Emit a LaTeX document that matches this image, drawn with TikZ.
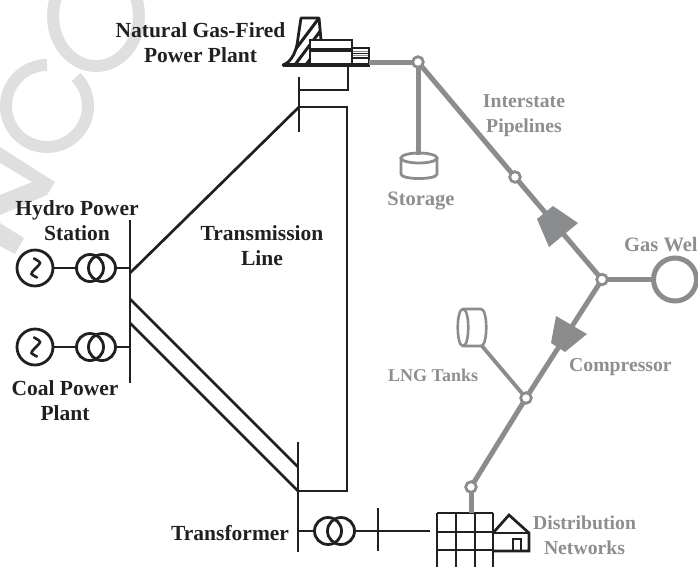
\documentclass[tikz,border=0pt]{standalone}
\usepackage{fontspec}
\setmainfont{Liberation Serif}
\usetikzlibrary{calc}
\definecolor{ink}{HTML}{231F20}
\definecolor{pipe}{HTML}{8A8C8E}
\definecolor{pipetext}{HTML}{8C8E91}
\definecolor{wm}{HTML}{DFDFDF}
\tikzset{
  darkline/.style={draw=ink,line width=2.7pt},
  pipeline/.style={draw=pipe,line width=5pt},
  thinpipe/.style={draw=pipe,line width=3.8pt},
  ring/.style={circle,draw=ink,line width=2.8pt,inner sep=0pt,outer sep=0pt,fill=none},
  gen/.style={ring,minimum size=36pt},
  coil/.style={ring,minimum size=27pt},
  junction/.style={circle,draw=pipe,fill=white,line width=2.6pt,inner sep=0pt,outer sep=0pt,minimum size=10.5pt},
  wellring/.style={circle,draw=pipe,line width=5pt,inner sep=0pt,outer sep=0pt,minimum size=43pt},
  blacklabel/.style={text=ink,align=center,inner sep=0pt,font=\fontsize{21.5}{25}\selectfont\bfseries},
  graylabel/.style={text=pipetext,align=center,inner sep=0pt,font=\fontsize{19.7}{25}\selectfont\bfseries},
  narrowgray/.style={text=pipetext,align=center,inner sep=0pt,font=\fontsize{18}{25}\selectfont\bfseries},
  widegray/.style={text=pipetext,align=center,inner sep=0pt,font=\fontsize{20.5}{25}\selectfont\bfseries},
  pump/.style={fill=pipe,draw=none},
  wmstroke/.style={draw=wm,line width=12pt,line cap=butt},
}
\newcommand{\scurve}[1]{\draw[ink,line width=2.6pt,line cap=round] plot[smooth] coordinates {($(#1)+(-1,-9.5)$) ($(#1)+(5,-5)$) ($(#1)+(-1,2)$) ($(#1)+(-3.5,6)$) ($(#1)+(2,9.5)$)};}
\begin{document}
\begin{tikzpicture}[x=1pt,y=-1pt]
\useasboundingbox (0,0) rectangle (698,566);
\clip (0,0) rectangle (698,566);
% watermark
\draw[wmstroke] (96,16) ellipse [x radius=43,y radius=50];
\draw[wmstroke] plot[domain=-90:-405,samples=70] ({47+41*cos(\x)},{106+41*sin(\x)});
\fill[wm] (0,147) -- (55,182) -- (47,195) -- (0,215) -- (0,195) -- (32,182) -- (0,163) -- cycle;
\fill[wm] (0,223) -- (24,238) -- (15,254) -- (0,246) -- cycle;
% coordinates
\coordinate (hbusT) at (130,220);
\coordinate (hbusB) at (130,383);
\coordinate (hbusA) at (130,273);
\coordinate (hbusC) at (130,299);
\coordinate (hbusD) at (130,323);
\coordinate (hbusH) at (130,268);
\coordinate (hbusK) at (130,347);
\coordinate (pbusT) at (299,77);
\coordinate (pbusB) at (299,132);
\coordinate (pbusM) at (299,90);
\coordinate (pbusA) at (299,107);
\coordinate (tbusT) at (298,442);
\coordinate (tbusB) at (298,552);
\coordinate (tbusC) at (298,467);
\coordinate (tbusD) at (298,491);
\coordinate (tbusX) at (298,531);
\coordinate (rTL) at (347,107);
\coordinate (rBL) at (347,491);
\coordinate (plantDrop) at (348,65);
\coordinate (plantDropB) at (348,90);
\coordinate (tickT) at (378,508);
\coordinate (tickB) at (378,551);
\coordinate (gridW) at (430,531);
\coordinate (plantOut) at (369,62);
\coordinate (gridTop) at (471,513);
% generators and transformers
\node[gen] (g1) at (35,268) {};
\node[coil] (t1a) at (90,268) {};
\node[coil] (t1b) at (102,268) {};
\node[gen] (g2) at (35,347) {};
\node[coil] (t2a) at (90,347) {};
\node[coil] (t2b) at (102,347) {};
\node[coil] (t3a) at (328,531) {};
\node[coil] (t3b) at (341,531) {};
\scurve{g1}
\scurve{g2}
\draw[darkline] (g1) -- (t1a);
\draw[darkline] (t1b) -- (hbusH);
\draw[darkline] (g2) -- (t2a);
\draw[darkline] (t2b) -- (hbusK);
\draw[darkline] (tbusX) -- (t3a);
\draw[darkline] (t3b) -- (gridW);
% buses
\draw[darkline] (hbusT) -- (hbusB);
\draw[darkline] (pbusT) -- (pbusB);
\draw[darkline] (tbusT) -- (tbusB);
\draw[darkline] (tickT) -- (tickB);
% transmission lines
\draw[darkline] (hbusA) -- (pbusA);
\draw[darkline] (hbusC) -- (tbusC);
\draw[darkline] (hbusD) -- (tbusD);
\draw[darkline] (pbusA) -- (rTL) -- (rBL) -- (tbusD);
\draw[darkline] (plantDrop) -- (plantDropB) -- (pbusM);
% plant
\begin{scope}
\clip (301,18) -- (319,18) -- (321,40) -- (310,40) -- (310,65) -- (283,65) .. controls (292,62) and (297,50) .. (298,38) -- cycle;
\foreach \d in {0,11,...,55}{\draw[ink,line width=3pt] (280+\d,70) -- (325+\d,10);}
\end{scope}
\draw[ink,line width=2.8pt,line join=round] (310,65) -- (283,65) .. controls (292,62) and (297,50) .. (298,38) -- (301,18) -- (319,18) -- (321,40);
\draw[darkline] (310,40) rectangle (352,65);
\draw[ink,line width=4.8pt] (310,50) -- (352,50);
\draw[ink,line width=2.6pt] (352,48) -- (369,48) -- (369,65);
\draw[pipe,line width=1.4pt] (353,51.5) -- (368,51.5) (353,55.5) -- (368,55.5);
\draw[ink,line width=1.5pt] (353,53.5) -- (368,53.5) (353,58) -- (368,58);
\draw[ink,line width=3.6pt] (283,65) -- (370,65);
% distribution grid
\foreach \x in {437,456,475,493}{\draw[darkline] (\x,513) -- (\x,568);}
\foreach \y in {513,532,550}{\draw[darkline] (437,\y) -- (493,\y);}
\draw[darkline] (493,533) -- (509,515) -- (529,533) -- (529,551) -- (493,551);
\draw[darkline] (493,533) -- (529,533);
\draw[darkline] (513,551) -- (513,539) -- (521,539) -- (521,551);
% gas network
\node[junction] (j1) at (418,62) {};
\node[junction] (j2) at (515,177) {};
\node[junction] (j3) at (602,279.5) {};
\node[junction] (j4) at (526,398) {};
\node[junction] (j5) at (471,487) {};
\node[wellring] (well) at (675,279.5) {};
\coordinate (stTop) at (418,155);
\coordinate (tankEnd) at (482,346);
\draw[pipeline] (plantOut) -- (j1);
\draw[pipeline] (j1) -- (stTop);
\draw[pipeline] (j1) -- (j2);
\draw[pipeline] (j2) -- (j3);
\draw[pipeline] (j3) -- (well);
\draw[pipeline] (j3) -- (j4);
\draw[pipeline] (j4) -- (j5);
\draw[pipeline] (j5) -- (gridTop);
\draw[thinpipe] (tankEnd) -- (j4);
\node[junction] at (j1) {};
\node[junction] at (j2) {};
\node[junction] at (j3) {};
\node[junction] at (j4) {};
\node[junction] at (j5) {};
\fill[pump] (553,206) -- (578,223) -- (549,247) -- (537,219) -- cycle;
\fill[pump] (556,316) -- (587,334) -- (565,352) -- (551,343) -- cycle;
% storage
\draw[pipe,line width=2.8pt] (401,157) -- (401,174) .. controls (401,180) and (437,180) .. (437,174) -- (437,157);
\draw[pipe,line width=2.8pt,fill=white] (419,158) ellipse [x radius=18,y radius=5];
\draw[pipeline] (418,70) -- (stTop);
% LNG tank
\draw[pipe,line width=2.6pt,fill=white] (463,309) -- (481,309) .. controls (488,309) and (488,346) .. (481,346) -- (463,346) .. controls (456,346) and (456,309) .. (463,309) -- cycle;
\draw[pipe,line width=2.6pt] (463,309) .. controls (470,309) and (470,346) .. (463,346);
% labels
\node[blacklabel] (lgas) at (200.5,43) {Natural Gas-Fired\\Power Plant};
\node[blacklabel] (lhydro) at (77,221) {Hydro Power\\Station};
\node[blacklabel] (lcoal) at (65,400.5) {Coal Power\\Plant};
\node[blacklabel] (lline) at (262,245.5) {Transmission\\Line};
\node[blacklabel,anchor=west] (ltr) at (171,533) {Transformer};
\node[graylabel] (lint) at (524,115.5) {Interstate\\Pipelines};
\node[widegray] (lsto) at (421,201) {Storage};
\node[widegray,anchor=west] (lwell) at (624,245) {Gas Wel};
\node[graylabel,anchor=west] (lcomp) at (569,367) {Compressor};
\node[narrowgray,anchor=west] (llng) at (388,375) {LNG Tanks};
\node[graylabel] (ldist) at (584.5,535.5) {Distribution\\Networks};
\end{tikzpicture}
\end{document}
